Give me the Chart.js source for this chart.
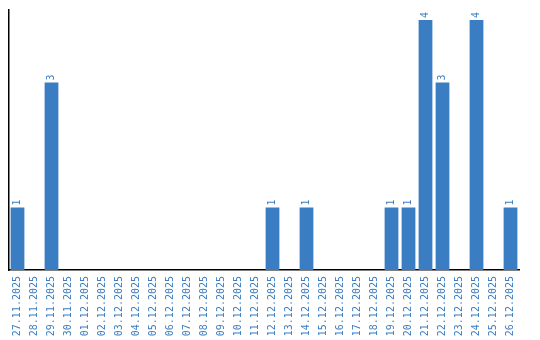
<!DOCTYPE html>
<html>
<head>
<meta charset="utf-8">
<script src="https://cdn.jsdelivr.net/npm/chart.js@4"></script>
<style>
  body { margin: 0; background: #fff; }
  #wrap { width: 540px; height: 340px; }
</style>
</head>
<body>
<div id="wrap"><canvas id="chart" width="540" height="340"></canvas></div>
<script>
// Categories and values
const days = [
    '27.11.2025', '28.11.2025', '29.11.2025', '30.11.2025', '01.12.2025',
    '02.12.2025', '03.12.2025', '04.12.2025', '05.12.2025', '06.12.2025',
    '07.12.2025', '08.12.2025', '09.12.2025', '10.12.2025', '11.12.2025',
    '12.12.2025', '13.12.2025', '14.12.2025', '15.12.2025', '16.12.2025',
    '17.12.2025', '18.12.2025', '19.12.2025', '20.12.2025', '21.12.2025',
    '22.12.2025', '23.12.2025', '24.12.2025', '25.12.2025', '26.12.2025'
];
const counts = [
    1, 0, 3, 0, 0,
    0, 0, 0, 0, 0,
    0, 0, 0, 0, 0,
    1, 0, 1, 0, 0,
    0, 0, 1, 1, 4,
    3, 0, 4, 0, 1
];

const blue = '#3b7dc2';
const monoFont = { family: 'DejaVu Sans Mono', size: 10 };

// Rotated value labels above bars
const valueLabels = {
    id: 'valueLabels',
    afterDatasetsDraw(chart) {
        const ctx = chart.ctx;
        const meta = chart.getDatasetMeta(0);
        ctx.save();
        ctx.fillStyle = blue;
        ctx.font = monoFont.size + 'px ' + monoFont.family;
        ctx.textAlign = 'left';
        ctx.textBaseline = 'middle';
        meta.data.forEach(function (bar, i) {
            if (!counts[i]) return;
            ctx.save();
            ctx.translate(bar.x, bar.y - 2);
            ctx.rotate(-Math.PI / 2);
            ctx.fillText(String(counts[i]), 0, 0);
            ctx.restore();
        });
        ctx.restore();
    }
};

const ctx = document.getElementById('chart').getContext('2d');
new Chart(ctx, {
    type: 'bar',
    data: {
        labels: days,
        datasets: [{
            data: counts,
            backgroundColor: blue,
            barPercentage: 0.9,
            categoryPercentage: 0.9
        }]
    },
    options: {
        responsive: false,
        animation: false,
        layout: { padding: { left: 9, right: 21, top: 10, bottom: 0 } },
        plugins: {
            legend: { display: false },
            tooltip: { enabled: false }
        },
        scales: {
            x: {
                grid: { display: false, drawTicks: false },
                border: { display: true, color: '#000', width: 1.5 },
                afterFit: function (scale) { scale.height = 70; },
                ticks: {
                    color: blue,
                    font: monoFont,
                    minRotation: 90,
                    maxRotation: 90,
                    autoSkip: false,
                    padding: 6
                }
            },
            y: {
                min: 0,
                max: 4.16,
                grid: { display: false, drawTicks: false },
                border: { display: true, color: '#000', width: 1.5 },
                afterFit: function (scale) { scale.width = 0; },
                ticks: { display: false }
            }
        }
    },
    plugins: [valueLabels]
});
</script>
</body>
</html>
